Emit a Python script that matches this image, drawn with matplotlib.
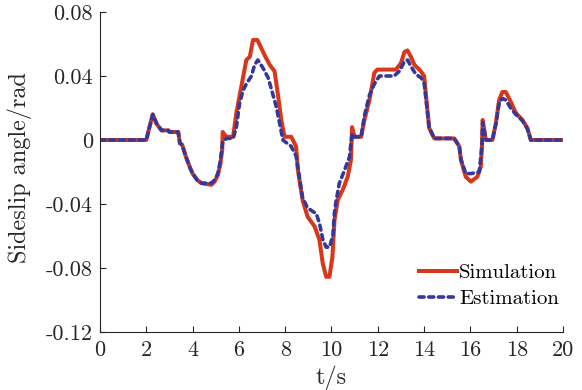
import matplotlib
matplotlib.use("Agg")
import matplotlib.pyplot as plt

sim_t = [0, 2.0, 2.1, 2.28, 2.45, 2.66, 2.95, 3.0, 3.38, 3.45, 3.55, 3.7, 3.88, 4.0, 4.2, 4.38, 4.81, 4.95,
         5.09, 5.2, 5.28, 5.3, 5.46, 5.75, 5.89, 6.1, 6.32, 6.47, 6.61, 6.8, 7.11, 7.33, 7.54, 7.68, 7.83,
         7.97, 8.26, 8.47, 8.55, 8.75, 8.97, 9.27, 9.48, 9.62, 9.77, 9.91, 10.04, 10.13, 10.27, 10.49, 10.7,
         10.84, 10.89, 10.99, 11.28, 11.42, 11.64, 11.85, 11.98, 12.78, 13.0, 13.15, 13.28, 13.43, 13.58,
         13.86, 14.0, 14.22, 14.44, 15.3, 15.52, 15.59, 15.8, 16.02, 16.3, 16.45, 16.5, 16.53, 16.67, 16.95,
         17.1, 17.24, 17.38, 17.53, 17.74, 17.96, 18.25, 18.46, 18.61, 20]
sim_y = [0, 0, 0.006, 0.016, 0.010, 0.006, 0.006, 0.005, 0.005, -0.002, -0.003, -0.010, -0.017, -0.021,
         -0.025, -0.027, -0.028, -0.026, -0.022, -0.015, -0.006, 0.005, 0.002, 0.002, 0.017, 0.033, 0.050,
         0.052, 0.0625, 0.0625, 0.053, 0.047, 0.043, 0.029, 0.0125, 0.002, 0.002, -0.004, -0.019, -0.0375,
         -0.048, -0.054, -0.0625, -0.077, -0.0855, -0.0855, -0.073, -0.050, -0.0375, -0.031, -0.023, -0.0125,
         0.008, 0.002, 0.002, 0.0125, 0.025, 0.042, 0.044, 0.044, 0.048, 0.055, 0.056, 0.052, 0.047, 0.043,
         0.040, 0.0075, 0.001, 0.001, -0.004, -0.0125, -0.023, -0.026, -0.023, -0.0167, -0.003, 0.0125, 0.0,
         0.0, 0.0104, 0.025, 0.030, 0.030, 0.024, 0.017, 0.0125, 0.0075, 0.0, 0]

est_t = [0, 2.0, 2.1, 2.28, 2.45, 2.66, 2.95, 3.0, 3.38, 3.45, 3.55, 3.7, 3.88, 4.0, 4.2, 4.38, 4.81, 4.95,
         5.09, 5.2, 5.3, 5.46, 5.75, 5.89, 6.03, 6.18, 6.32, 6.54, 6.68, 6.82, 7.04, 7.26, 7.4, 7.61, 7.76,
         7.9, 8.26, 8.47, 8.6, 8.75, 8.95, 9.12, 9.34, 9.48, 9.63, 9.77, 9.91, 10.06, 10.13, 10.2, 10.34,
         10.56, 10.78, 10.84, 10.89, 10.99, 11.28, 11.42, 11.64, 11.85, 12.07, 12.7, 12.93, 13.15, 13.29,
         13.43, 13.65, 13.86, 14.0, 14.22, 14.44, 15.3, 15.52, 15.59, 15.8, 16.02, 16.38, 16.5, 16.53, 16.67,
         16.95, 17.1, 17.24, 17.38, 17.53, 17.74, 17.96, 18.25, 18.46, 18.61, 20]
est_y = [0, 0, 0.006, 0.016, 0.010, 0.006, 0.006, 0.005, 0.005, -0.002, -0.003, -0.010, -0.017, -0.021,
         -0.025, -0.027, -0.027, -0.025, -0.021, -0.013, -0.001, 0.001, 0.001, 0.008, 0.023, 0.031, 0.035,
         0.040, 0.047, 0.050, 0.045, 0.039, 0.032, 0.021, 0.0104, 0.0, -0.004, -0.010, -0.022, -0.036,
         -0.042, -0.044, -0.046, -0.052, -0.0625, -0.067, -0.067, -0.060, -0.045, -0.038, -0.027, -0.019,
         -0.0104, -0.002, 0.004, 0.002, 0.002, 0.015, 0.028, 0.035, 0.040, 0.040, 0.043, 0.049, 0.050, 0.046,
         0.041, 0.039, 0.036, 0.0075, 0.001, 0.001, -0.004, -0.012, -0.021, -0.021, -0.020, -0.004, 0.011,
         0.0, 0.0, 0.010, 0.023, 0.026, 0.025, 0.020, 0.016, 0.012, 0.007, 0.0, 0]

x_ticks = [0, 2, 4, 6, 8, 10, 12, 14, 16, 18, 20]
y_ticks = [0.08, 0.04, 0, -0.04, -0.08, -0.12]
y_tick_labels = ["0.08", "0.04", "0", "-0.04", "-0.08", "-0.12"]

plt.rcParams["font.family"] = "cmr10"
plt.rcParams["axes.unicode_minus"] = False
plt.rcParams["mathtext.fontset"] = "cm"

fig = plt.figure(figsize=(5.82, 3.90), dpi=100)
ax = fig.add_axes([100 / 582, 1 - 332 / 390, 463 / 582, 320 / 390])

ax.plot(sim_t, sim_y, color="#D8381A", lw=2.9, label="Simulation", solid_joinstyle="round")
ax.plot(est_t, est_y, color="#35389A", lw=2.6, linestyle=(0, (1.4, 1.3)), dash_capstyle="round",
        label="Estimation")

ax.set_xlim(0, 20)
ax.set_ylim(-0.12, 0.08)
ax.set_xticks(x_ticks)
ax.set_xticklabels([str(v) for v in x_ticks])
ax.set_yticks(y_ticks)
ax.set_yticklabels(y_tick_labels)
ax.tick_params(direction="in", length=4, width=0.8, labelsize=16, colors="#262626")
ax.tick_params(axis="x", pad=6)
ax.tick_params(axis="y", pad=5)
for s in ["top", "right"]:
    ax.spines[s].set_visible(False)
for s in ["left", "bottom"]:
    ax.spines[s].set_color("#262626")
    ax.spines[s].set_linewidth(0.8)

ax.set_xlabel("t/s", fontsize=17.5, color="#262626", labelpad=4)
ax.set_ylabel("Sideslip angle/rad", fontsize=17.5, color="#262626")
ax.yaxis.set_label_coords(-0.147, 0.514)

leg = ax.legend(loc="lower right", frameon=False, fontsize=15, handlelength=1.8, handletextpad=0.1,
                borderaxespad=0.0, borderpad=0.2, labelspacing=0.35, bbox_to_anchor=(1.0, 0.062))

fig.savefig("out.png", dpi=100)
